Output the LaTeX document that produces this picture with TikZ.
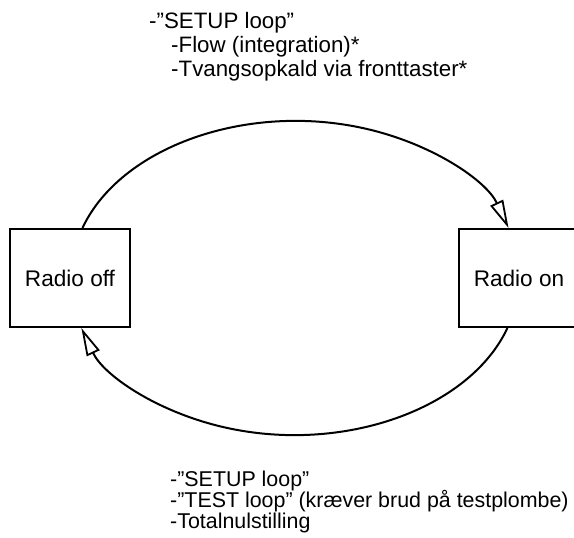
\documentclass[tikz,border=0pt]{standalone}
\usepackage{fontspec}
\setmainfont{Liberation Sans}
\usetikzlibrary{arrows.meta}

\begin{document}
\begin{tikzpicture}[x=1pt,y=1pt,
  radiobox/.style={draw,line width=2pt,minimum width=120pt,minimum height=98pt,inner sep=0pt,font=\fontsize{22.6}{26}\selectfont},
  looparc/.style={line width=2pt,-{Triangle[open,length=28pt,width=14pt,line width=1.8pt]}},
  note/.style={anchor=base west,inner sep=0pt,font=\fontsize{22.3}{26}\selectfont},
  noteb/.style={note,font=\fontsize{21.4}{25}\selectfont}]
\useasboundingbox (0,0) rectangle (574,538);
\node[radiobox] (radiooff) at (70,260) {Radio off};
\node[radiobox] (radioon) at (519,260) {Radio on};
\draw[looparc] (radiooff.76) arc[start angle=162,end angle=18,x radius=224,y radius=155];
\draw[looparc] (radioon.-103) arc[start angle=-18,end angle=-162,x radius=224,y radius=155];
\node[note] (setup) at (149,509) {-”SETUP loop”};
\node[note] (flow) at (171,485) {-Flow (integration)*};
\node[note] (tvang) at (171,461) {-Tvangsopkald via fronttaster*};
\node[noteb] (setupb) at (170,51) {-”SETUP loop”};
\node[noteb] (testb) at (170,30) {-”TEST loop” (kræver brud på testplombe)};
\node[noteb] (total) at (170,9) {-Totalnulstilling};
\end{tikzpicture}
\end{document}
